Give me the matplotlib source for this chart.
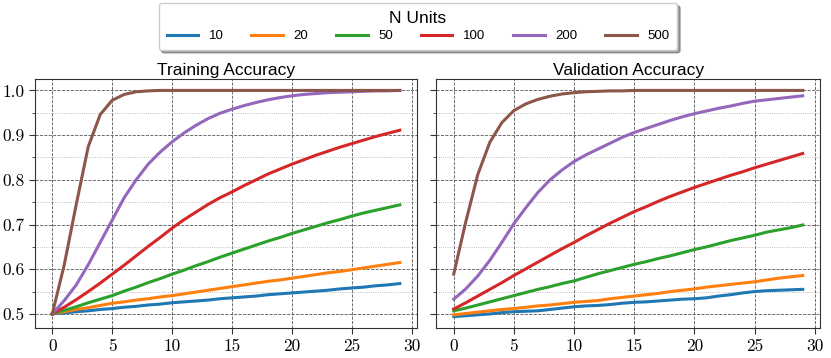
import matplotlib.pyplot as plt
from matplotlib.ticker import FormatStrFormatter, MultipleLocator

plt.rcParams['font.family'] = ['Liberation Sans', 'DejaVu Sans']

epochs = list(range(30))
units = ['10', '20', '50', '100', '200', '500']
colors = ['#1f77b4', '#ff7f0e', '#2ca02c', '#d62728', '#9467bd', '#8c564b']

# training accuracy per N units
train_10 = [0.500, 0.502, 0.505, 0.507, 0.510, 0.512, 0.515, 0.517, 0.520, 0.522,
            0.525, 0.527, 0.529, 0.531, 0.534, 0.536, 0.538, 0.540, 0.543, 0.545,
            0.547, 0.549, 0.551, 0.553, 0.556, 0.558, 0.560, 0.563, 0.565, 0.568]
train_20 = [0.500, 0.505, 0.510, 0.514, 0.519, 0.524, 0.527, 0.531, 0.534, 0.538,
            0.541, 0.545, 0.549, 0.553, 0.557, 0.561, 0.565, 0.569, 0.573, 0.576,
            0.580, 0.584, 0.588, 0.592, 0.595, 0.599, 0.603, 0.607, 0.611, 0.615]
train_50 = [0.500, 0.508, 0.516, 0.525, 0.533, 0.541, 0.551, 0.560, 0.570, 0.579,
            0.589, 0.598, 0.608, 0.617, 0.627, 0.636, 0.645, 0.654, 0.663, 0.671,
            0.680, 0.688, 0.696, 0.704, 0.711, 0.719, 0.726, 0.732, 0.738, 0.744]
train_100 = [0.500, 0.515, 0.532, 0.550, 0.569, 0.589, 0.609, 0.630, 0.651, 0.671,
             0.692, 0.711, 0.728, 0.745, 0.760, 0.773, 0.787, 0.800, 0.813, 0.824,
             0.835, 0.845, 0.855, 0.864, 0.873, 0.881, 0.889, 0.897, 0.904, 0.911]
train_200 = [0.500, 0.530, 0.565, 0.610, 0.660, 0.710, 0.760, 0.800, 0.835, 0.862,
             0.885, 0.905, 0.922, 0.937, 0.949, 0.958, 0.966, 0.973, 0.979, 0.984,
             0.988, 0.991, 0.993, 0.995, 0.996, 0.997, 0.998, 0.999, 0.999, 1.000]
train_500 = [0.500, 0.610, 0.745, 0.874, 0.946, 0.978, 0.991, 0.997, 0.999, 1.000,
             1.000, 1.000, 1.000, 1.000, 1.000, 1.000, 1.000, 1.000, 1.000, 1.000,
             1.000, 1.000, 1.000, 1.000, 1.000, 1.000, 1.000, 1.000, 1.000, 1.000]

# validation accuracy per N units
val_10 = [0.494, 0.496, 0.498, 0.500, 0.503, 0.505, 0.506, 0.507, 0.510, 0.513,
          0.516, 0.518, 0.519, 0.521, 0.524, 0.526, 0.527, 0.529, 0.531, 0.533,
          0.534, 0.536, 0.540, 0.543, 0.547, 0.550, 0.552, 0.553, 0.554, 0.555]
val_20 = [0.498, 0.501, 0.504, 0.507, 0.510, 0.512, 0.515, 0.518, 0.520, 0.523,
          0.526, 0.528, 0.530, 0.534, 0.537, 0.540, 0.543, 0.546, 0.550, 0.553,
          0.556, 0.560, 0.563, 0.566, 0.569, 0.572, 0.576, 0.580, 0.583, 0.586]
val_50 = [0.507, 0.513, 0.520, 0.527, 0.534, 0.541, 0.548, 0.555, 0.561, 0.568,
          0.574, 0.582, 0.590, 0.597, 0.604, 0.611, 0.617, 0.624, 0.630, 0.637,
          0.644, 0.650, 0.657, 0.664, 0.670, 0.676, 0.683, 0.688, 0.693, 0.699]
val_100 = [0.511, 0.525, 0.540, 0.555, 0.570, 0.586, 0.601, 0.616, 0.631, 0.646,
           0.660, 0.675, 0.689, 0.703, 0.716, 0.729, 0.740, 0.752, 0.763, 0.773,
           0.783, 0.792, 0.801, 0.810, 0.818, 0.827, 0.835, 0.843, 0.851, 0.859]
val_200 = [0.533, 0.556, 0.585, 0.620, 0.660, 0.702, 0.738, 0.772, 0.800, 0.822,
           0.841, 0.856, 0.869, 0.882, 0.895, 0.906, 0.915, 0.924, 0.933, 0.941,
           0.948, 0.954, 0.960, 0.965, 0.971, 0.976, 0.979, 0.982, 0.985, 0.988]
val_500 = [0.589, 0.706, 0.812, 0.884, 0.928, 0.955, 0.970, 0.980, 0.987, 0.992,
           0.995, 0.997, 0.998, 0.999, 0.999, 1.000, 1.000, 1.000, 1.000, 1.000,
           1.000, 1.000, 1.000, 1.000, 1.000, 1.000, 1.000, 1.000, 1.000, 1.000]

train = [train_10, train_20, train_50, train_100, train_200, train_500]
val = [val_10, val_20, val_50, val_100, val_200, val_500]

fig = plt.figure(figsize=(8.31, 3.58), dpi=100)
ax1 = fig.add_axes([0.042, 0.084, 0.460, 0.695])
ax2 = fig.add_axes([0.525, 0.084, 0.462, 0.695], sharey=ax1)

for ax, data, title in [(ax1, train, 'Training Accuracy'), (ax2, val, 'Validation Accuracy')]:
    for y, c, u in zip(data, colors, units):
        ax.plot(epochs, y, color=c, lw=2.2, label=u)
    ax.set_title(title, fontsize=12.5, pad=3)
    ax.xaxis.set_major_locator(MultipleLocator(5))
    ax.yaxis.set_major_locator(MultipleLocator(0.1))
    ax.yaxis.set_minor_locator(MultipleLocator(0.05))
    ax.xaxis.set_major_formatter(FormatStrFormatter('%d'))
    ax.yaxis.set_major_formatter(FormatStrFormatter('%.1f'))
    ax.grid(which='major', ls='--', color='#555555', lw=0.6)
    ax.grid(which='minor', axis='y', ls=':', color='#aaaaaa', lw=0.6)
    ax.tick_params(labelsize=12.5, length=4, color='#333333')
    ax.tick_params(which='minor', length=2, color='#333333')
    for lab in ax.get_xticklabels() + ax.get_yticklabels():
        lab.set_fontfamily('cmr10')
    for s in ax.spines.values():
        s.set_color('#333333')
        s.set_linewidth(0.8)

ax2.tick_params(labelleft=False)

handles, labels = ax1.get_legend_handles_labels()
fig.legend(handles, labels, title='N Units', loc='upper center', bbox_to_anchor=(0.503, 1.01),
           ncol=6, fontsize=9.5, title_fontsize=12.5, handlelength=2.4, handletextpad=0.8,
           columnspacing=2.1, borderpad=0.6, labelspacing=0.3,
           shadow=True, fancybox=True, edgecolor='#cccccc', framealpha=1)

fig.savefig('out.png', dpi=100)
